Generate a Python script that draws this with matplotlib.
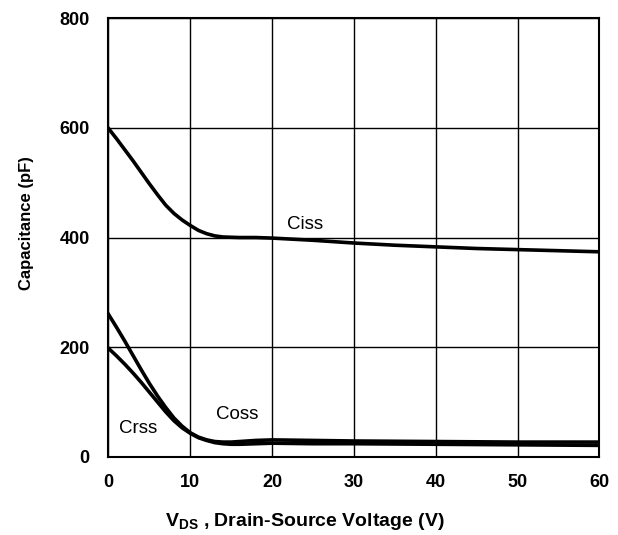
import numpy as np
import matplotlib.pyplot as plt

plt.rcParams['font.family'] = ['Liberation Sans', 'DejaVu Sans']
plt.rcParams['mathtext.fontset'] = 'custom'
plt.rcParams['mathtext.bf'] = 'Liberation Sans:bold'
plt.rcParams['mathtext.rm'] = 'Liberation Sans'

# values
vds_ciss = [0, 1, 2, 3, 4, 5, 6, 7, 8, 9, 10, 11, 12, 13, 14, 16, 18, 20, 25, 30, 35, 40, 45, 50, 55, 60]
ciss = [599, 580, 560, 540, 519, 498, 478, 459, 444, 432, 422, 413, 407, 403, 401, 400, 400, 399, 395, 390, 386, 383, 380, 378, 376, 374]

vds_c = [0, 1, 2, 3, 4, 5, 6, 7, 8, 9, 10, 11, 12, 13, 14, 15, 16, 18, 20, 25, 30, 40, 50, 60]
coss = [260, 236, 211, 185, 159, 134, 111, 90, 71, 56, 44, 36, 31, 28, 27, 27, 28, 30, 31, 30, 29, 28, 27, 27]
crss = [198, 184, 169, 153, 136, 118, 100, 82, 66, 53, 43, 35, 30, 26, 24, 23, 23, 24, 25, 24, 24, 23, 22, 21]

labels = {"Ciss": (24.0, 424), "Coss": (15.75, 78), "Crss": (3.6, 51)}

fig = plt.figure(figsize=(6.18, 5.35), dpi=100)
ax = fig.add_axes([0.1755, 0.146, 0.7945, 0.82])

ax.plot(vds_ciss, ciss, color="black", lw=2.6)
ax.plot(vds_c, coss, color="black", lw=2.6)
ax.plot(vds_c, crss, color="black", lw=2.6)

for name, (x, y) in labels.items():
    ax.text(x, y, name, fontsize=13.5, ha="center", va="center")

ax.set_xlim(0, 60)
ax.set_ylim(0, 800)
ax.set_xticks(np.arange(0, 61, 10))
ax.set_yticks(np.arange(0, 801, 200))
ax.grid(True, color="black", lw=1)
ax.set_axisbelow(True)
for s in ax.spines.values():
    s.set_linewidth(1.5)
ax.tick_params(length=0, labelsize=13)
ax.tick_params(axis="x", pad=12.5)
ax.tick_params(axis="y", pad=13.5)
for lab in ax.get_xticklabels() + ax.get_yticklabels():
    lab.set_fontweight("bold")

ax.set_ylabel("Capacitance (pF)", fontsize=12, fontweight="bold")
ax.yaxis.set_label_coords(-0.151, 0.533)
ax.set_xlabel(r"$\mathbf{V_{DS}}$ , Drain-Source Voltage (V)", fontsize=14, fontweight="bold")
ax.xaxis.set_label_coords(0.399, -0.123)

fig.savefig("out.png", dpi=100)
